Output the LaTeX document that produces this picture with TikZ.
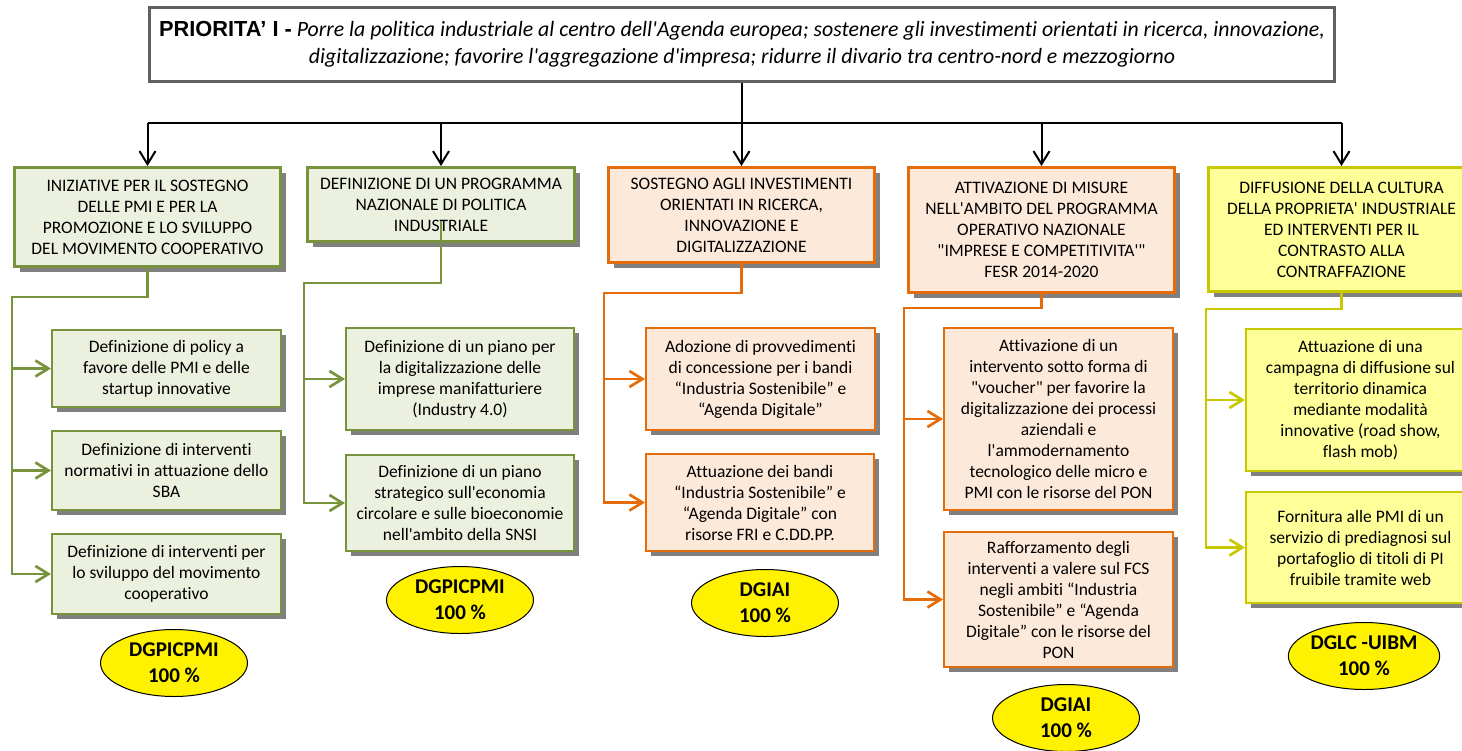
\documentclass[tikz,border=0pt]{standalone}
\usepackage{fontspec}
\newfontfamily\calfont{Carlito}[Ligatures=NoCommon]
\newfontfamily\arialfont{Liberation Sans}
\usetikzlibrary{arrows.meta,shadows,shapes.geometric}
\definecolor{grnline}{HTML}{77933C}
\definecolor{grnfill}{HTML}{EBF1DE}
\definecolor{orgline}{HTML}{E46C0A}
\definecolor{orgfill}{HTML}{FDE9D9}
\definecolor{ylwline}{HTML}{C8C800}
\definecolor{ylwfill}{HTML}{FFFF99}
\definecolor{shadowgray}{HTML}{808080}
\definecolor{topline}{HTML}{606060}
\begin{document}
\begin{tikzpicture}[x=1pt,y=-1pt,
  boxshadow/.style={drop shadow={shadow xshift=5pt,shadow yshift=-5pt,fill=shadowgray,opacity=1}},
  mainbox/.style={anchor=north west,align=center,inner sep=0pt,line width=3pt,boxshadow,font=\calfont\fontsize{17.5}{21}\selectfont},
  subbox/.style={mainbox,line width=2pt},
  grn/.style={draw=grnline,fill=grnfill},
  org/.style={draw=orgline,fill=orgfill},
  ylw/.style={draw=ylwline,fill=ylwfill},
  ell/.style={ellipse,draw,fill=yellow,line width=1pt,minimum width=147pt,minimum height=67pt,inner sep=0pt,align=center,font=\calfont\bfseries\fontsize{21}{26}\selectfont},
  link/.style={line width=2.7pt},
  arr/.style={-{Straight Barb[length=13pt,width=16pt]}}]
\useasboundingbox (0,0) rectangle (1462,750);
\clip (0,0) rectangle (1462,750);
\node[anchor=north west,align=center,inner sep=0pt,draw=topline,fill=white,line width=3pt,minimum width=1185pt,minimum height=74pt,font=\calfont\fontsize{21.8}{27}\selectfont] (top) at (148,6)
  {{\arialfont\bfseries PRIORITA’ I -} \itshape Porre la politica industriale al centro dell'Agenda europea; sostenere gli investimenti orientati in ricerca, innovazione,\\
   \itshape digitalizzazione; favorire l'aggregazione d'impresa; ridurre il divario tra centro-nord e mezzogiorno};
\node[mainbox,grn,minimum width=266pt,minimum height=99pt] (a1) at (13,166) {INIZIATIVE PER IL SOSTEGNO\\DELLE PMI E PER LA\\PROMOZIONE E LO SVILUPPO\\DEL MOVIMENTO COOPERATIVO};
\node[mainbox,grn,minimum width=267pt,minimum height=74pt] (a2) at (306,166) {DEFINIZIONE DI UN PROGRAMMA\\NAZIONALE DI POLITICA\\INDUSTRIALE};
\node[mainbox,org,minimum width=266pt,minimum height=95pt] (a3) at (607,166) {SOSTEGNO AGLI INVESTIMENTI\\ORIENTATI IN RICERCA,\\INNOVAZIONE E\\DIGITALIZZAZIONE};
\node[mainbox,org,minimum width=266pt,minimum height=125pt] (a4) at (907,166) {ATTIVAZIONE DI MISURE\\NELL'AMBITO DEL PROGRAMMA\\OPERATIVO NAZIONALE\\"IMPRESE E COMPETITIVITA'"\\FESR 2014-2020};
\node[mainbox,ylw,minimum width=266pt,minimum height=124pt] (a5) at (1207,166) {DIFFUSIONE DELLA CULTURA\\DELLA PROPRIETA' INDUSTRIALE\\ED INTERVENTI PER IL\\CONTRASTO ALLA\\CONTRAFFAZIONE};
\node[subbox,grn,minimum width=229pt,minimum height=77pt] (g1a) at (51,329) {Definizione di policy a\\favore delle PMI e delle\\startup innovative};
\node[subbox,grn,minimum width=229pt,minimum height=79pt] (g1b) at (51,430) {Definizione di interventi\\normativi in attuazione dello\\SBA};
\node[subbox,grn,minimum width=229pt,minimum height=80pt] (g1c) at (51,533) {Definizione di interventi per\\lo sviluppo del movimento\\cooperativo};
\node[subbox,grn,minimum width=228pt,minimum height=102pt] (g2a) at (345,327) {Definizione di un piano per\\la digitalizzazione delle\\imprese manifatturiere\\(Industry 4.0)};
\node[subbox,grn,minimum width=228pt,minimum height=96pt] (g2b) at (345,454) {Definizione di un piano\\strategico sull'economia\\circolare e sulle bioeconomie\\nell'ambito della SNSI};
\node[subbox,org,minimum width=229pt,minimum height=102pt] (o3a) at (645,327) {Adozione di provvedimenti\\di concessione per i bandi\\“Industria Sostenibile” e\\“Agenda Digitale”};
\node[subbox,org,minimum width=228pt,minimum height=97pt] (o3b) at (645,453) {Attuazione dei bandi\\“Industria Sostenibile” e\\“Agenda Digitale” con\\risorse FRI e C.DD.PP.};
\node[subbox,org,minimum width=229pt,minimum height=182pt] (o4a) at (943,327) {Attivazione di un\\intervento sotto forma di\\"voucher" per favorire la\\digitalizzazione dei processi\\aziendali e\\l'ammodernamento\\tecnologico delle micro e\\PMI con le risorse del PON};
\node[subbox,org,minimum width=229pt,minimum height=135pt] (o4b) at (943,531) {Rafforzamento degli\\interventi a valere sul FCS\\negli ambiti “Industria\\Sostenibile” e “Agenda\\Digitale” con le risorse del\\PON};
\node[subbox,ylw,minimum width=229pt,minimum height=142pt] (y5a) at (1245,328) {Attuazione di una\\campagna di diffusione sul\\territorio dinamica\\mediante modalità\\innovative (road show,\\flash mob)};
\node[subbox,ylw,minimum width=229pt,minimum height=111pt] (y5b) at (1245,491) {Fornitura alle PMI di un\\servizio di prediagnosi sul\\portafoglio di titoli di PI\\fruibile tramite web};
\node[ell] (e1) at (174,663) {DGPICPMI\\100 \%};
\node[ell] (e2) at (460,600) {DGPICPMI\\100 \%};
\node[ell] (e3) at (765,603) {DGIAI\\100 \%};
\node[ell] (e4) at (1066,718) {DGIAI\\100 \%};
\node[ell] (e5) at (1364,656) {DGLC -UIBM\\100 \%};
\coordinate (hub) at (740,123);
\coordinate (s1) at (12,297);
\coordinate (s2) at (304,283);
\coordinate (s3) at (604,293);
\coordinate (s4) at (904,308);
\coordinate (s5) at (1206,309);
\draw[line width=2pt] (top.south) -- (top.south |- hub);
\draw[line width=2pt] (a1.north |- hub) -- (a5.north |- hub);
\foreach \n in {a1,a2,a3,a4,a5}
  \draw[line width=2pt,arr] (\n.north |- hub) -- (\n.north);
\draw[link,grnline,arr] (a1.south) |- (s1) |- (g1c.west);
\draw[link,grnline,arr] (s1 |- g1a.west) -- (g1a.west);
\draw[link,grnline,arr] (s1 |- g1b.west) -- (g1b.west);
\draw[link,grnline,arr] ([yshift=22pt]a2.south) |- (s2) |- (g2b.west);
\draw[link,grnline,arr] (s2 |- g2a.west) -- (g2a.west);
\draw[link,orgline,arr] (a3.south) |- (s3) |- (o3b.west);
\draw[link,orgline,arr] (s3 |- o3a.west) -- (o3a.west);
\draw[link,orgline,arr] (a4.south) |- (s4) |- (o4b.west);
\draw[link,orgline,arr] (s4 |- o4a.west) -- (o4a.west);
\draw[link,ylwline,arr] (a5.south) |- (s5) |- (y5b.west);
\draw[link,ylwline,arr] (s5 |- y5a.west) -- (y5a.west);
\end{tikzpicture}
\end{document}
